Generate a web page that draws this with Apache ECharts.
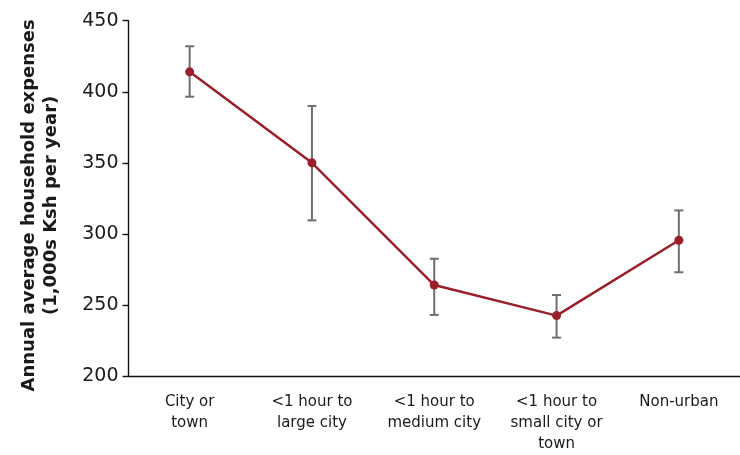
<!DOCTYPE html>
<html>
<head>
<meta charset="utf-8">
<script src="https://cdn.jsdelivr.net/npm/echarts@6/dist/echarts.min.js"></script>
<style>
html,body{margin:0;padding:0;background:#fff;overflow:hidden;}
#chart{width:740px;height:455px;}
</style>
</head>
<body>
<div id="chart"></div>
<script>
const categories = ['City or\ntown', '<1 hour to\nlarge city', '<1 hour to\nmedium city', '<1 hour to\nsmall city or\ntown', 'Non-urban'];
const means = [414, 350, 264, 242.5, 295.5];
const lower = [396.5, 309.5, 243, 227, 273];
const upper = [432, 390, 282.5, 257, 316.5];
const yTicks = [200, 250, 300, 350, 400, 450];

const errData = categories.map((c, i) => [i, lower[i], upper[i]]);
const chart = echarts.init(document.getElementById('chart'));
const textColor = '#1a1a1a';
chart.setOption({
  animation: false,
  backgroundColor: '#fff',
  grid: { left: 128.5, top: 20.7, width: 615, height: 358.8, containLabel: false },
  xAxis: {
    type: 'category',
    data: categories,
    boundaryGap: true,
    axisLine: { lineStyle: { color: '#111', width: 1.4 } },
    axisTick: { show: false },
    axisLabel: { color: textColor, fontFamily: 'DejaVu Sans', fontSize: 15, lineHeight: 21, margin: 16, interval: 0 }
  },
  yAxis: {
    type: 'value',
    min: yTicks[0], max: yTicks[yTicks.length - 1], interval: 50,
    splitLine: { show: false },
    axisLine: { show: true, lineStyle: { color: '#111', width: 1.4 } },
    axisTick: { show: true, length: 6, lineStyle: { color: '#111', width: 1.4 } },
    axisLabel: { color: textColor, fontFamily: 'DejaVu Sans', fontSize: 19, margin: 10 },
    name: 'Annual average household expenses\n(1,000s Ksh per year)',
    nameLocation: 'middle',
    nameRotate: 90,
    nameGap: 66,
    nameTextStyle: { color: textColor, fontFamily: 'DejaVu Sans', fontWeight: 'bold', fontSize: 18, lineHeight: 22, padding: [0, 14, 0, 0] }
  },
  series: [
    {
      type: 'custom',
      data: errData,
      z: 1,
      renderItem: function (params, api) {
        const x = api.value(0);
        const lo = api.coord([x, api.value(1)]);
        const hi = api.coord([x, api.value(2)]);
        const hw = 4.5;
        const style = { stroke: '#6f6f6f', lineWidth: 2, fill: null };
        return {
          type: 'group',
          children: [
            { type: 'line', shape: { x1: hi[0], y1: hi[1], x2: lo[0], y2: lo[1] }, style: style },
            { type: 'line', shape: { x1: hi[0] - hw, y1: hi[1], x2: hi[0] + hw, y2: hi[1] }, style: style },
            { type: 'line', shape: { x1: lo[0] - hw, y1: lo[1], x2: lo[0] + hw, y2: lo[1] }, style: style }
          ]
        };
      }
    },
    {
      type: 'line',
      data: means,
      z: 2,
      symbol: 'circle',
      symbolSize: 9,
      lineStyle: { color: '#9b1f2b', width: 2.5 },
      itemStyle: { color: '#9b1f2b' }
    }
  ]
});
</script>
</body>
</html>
